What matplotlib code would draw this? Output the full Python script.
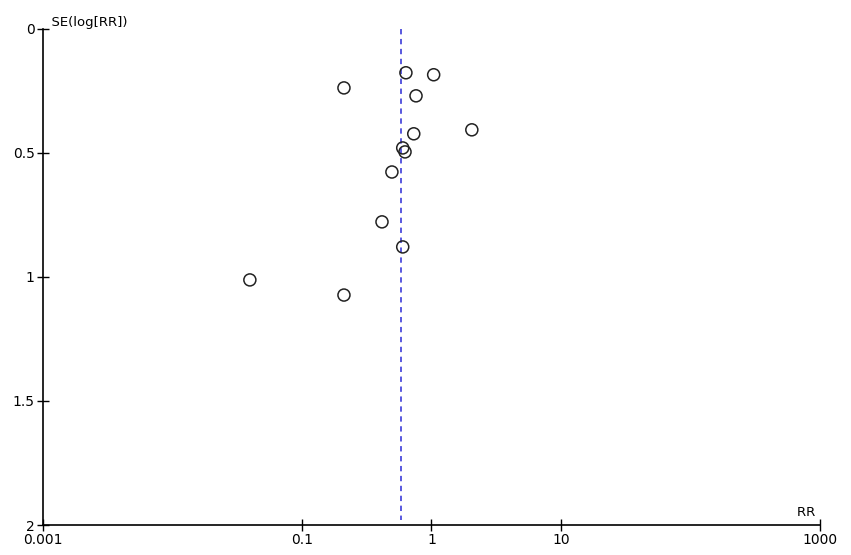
import numpy as np
import matplotlib.pyplot as plt

# study estimates: risk ratio and standard error of log(RR)
rr = [0.635, 1.04, 0.211, 0.76, 0.73, 2.05, 0.60, 0.625, 0.495, 0.415, 0.60, 0.0396, 0.211]
se = [0.177, 0.185, 0.238, 0.27, 0.423, 0.407, 0.48, 0.496, 0.577, 0.778, 0.879, 1.012, 1.073]
pooled_rr = 0.58

xticks = [0.001, 0.1, 1, 10, 1000]
xlabels = ['0.001', '0.1', '1', '10', '1000']
yticks = [0, 0.5, 1, 1.5, 2]
ylabels = ['0', '0.5', '1', '1.5', '2']

fig = plt.figure(figsize=(8.51, 5.55), dpi=100)
ax = fig.add_axes([0.0505, 0.054, 0.913, 0.894])

ax.scatter(rr, se, s=75, facecolors='none', edgecolors='#222222', linewidths=1.1, zorder=3)
ax.plot([pooled_rr, pooled_rr], [0, 1.98], color='#2b2bd6', linestyle=(0, (3.5, 3)), linewidth=1.1)

ax.set_xscale('log')
ax.set_xlim(0.001, 1000)
ax.set_ylim(2, 0)
ax.set_xticks(xticks)
ax.set_xticklabels(xlabels, fontsize=10)
ax.minorticks_off()
ax.set_yticks(yticks)
ax.set_yticklabels(ylabels, fontsize=10)
ax.tick_params(direction='inout', length=8, width=1, pad=2)

ax.spines['top'].set_visible(False)
ax.spines['right'].set_visible(False)
ax.spines['left'].set_linewidth(1.2)
ax.spines['bottom'].set_linewidth(1.2)

ax.text(0.001, 0, '  SE(log[RR])', fontsize=9.5, ha='left', va='bottom')
ax.text(1000, 1.975, 'RR ', fontsize=9.5, ha='right', va='bottom')

fig.savefig('out.png', dpi=100)
